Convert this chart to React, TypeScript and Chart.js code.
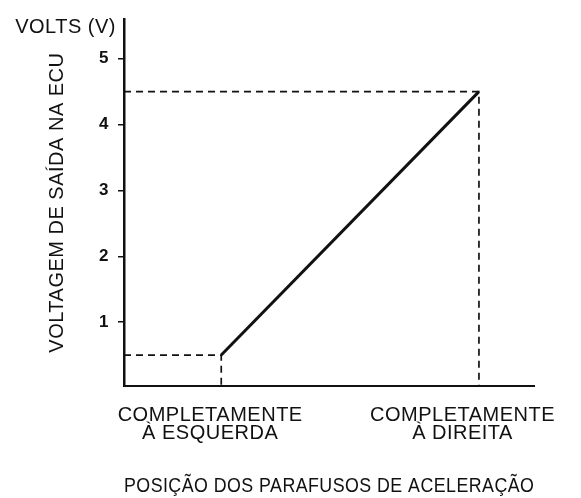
import React, { useEffect, useRef } from "react";
import { Chart, registerables } from "chart.js";

Chart.register(...registerables);

// ---- data ----
const throttleTickLabels = [
  ["COMPLETAMENTE", "À ESQUERDA"],
  ["COMPLETAMENTE", "À DIREITA"],
];
const throttleTickPositions = [2.1, 8.25];
const throttleStops = [2.37, 8.65];
const outputVolts = [0.5, 4.5];
const voltTicks = [1, 2, 3, 4, 5];
const xRange = [0, 10];
const yRange = [0.03, 5.6];
const yUnitLabel = "VOLTS (V)";
const yTitle = "VOLTAGEM DE SAÍDA NA ECU";
const xTitle = "POSIÇÃO DOS PARAFUSOS DE ACELERAÇÃO";

const INK = "#111111";
const FONT = '"Liberation Sans", Arial, Helvetica, sans-serif';
const SPACING = "0.5px";

const textPlugin = {
  id: "textTweaks",
  beforeLayout(chart: any) {
    chart.ctx.letterSpacing = SPACING;
  },
  beforeDraw(chart: any) {
    chart.ctx.letterSpacing = SPACING;
  },
  afterDraw(chart: any) {
    const { ctx, chartArea } = chart;
    ctx.save();
    ctx.letterSpacing = SPACING;
    ctx.font = `20px ${FONT}`;
    ctx.fillStyle = INK;
    ctx.textAlign = "right";
    ctx.textBaseline = "middle";
    ctx.fillText(yUnitLabel, chartArea.left - 8, chartArea.top + 8);
    ctx.restore();
  },
};

export default function App() {
  const ref = useRef<HTMLCanvasElement | null>(null);

  useEffect(() => {
    if (!ref.current) return;
    const guide = {
      borderColor: INK,
      borderWidth: 1.7,
      borderDash: [7, 5],
      pointRadius: 0,
      fill: false,
      tension: 0,
    };
    const chart = new Chart(ref.current, {
      type: "line",
      data: {
        datasets: [
          {
            label: "guia esquerda",
            data: [
              { x: xRange[0], y: outputVolts[0] },
              { x: throttleStops[0], y: outputVolts[0] },
              { x: throttleStops[0], y: yRange[0] },
            ],
            ...guide,
          },
          {
            label: "guia direita",
            data: [
              { x: xRange[0], y: outputVolts[1] },
              { x: throttleStops[1], y: outputVolts[1] },
              { x: throttleStops[1], y: yRange[0] },
            ],
            ...guide,
          },
          {
            label: "saída",
            data: throttleStops.map((x, i) => ({ x, y: outputVolts[i] })),
            borderColor: INK,
            borderWidth: 3,
            pointRadius: 0,
            fill: false,
            tension: 0,
          },
        ],
      },
      options: {
        animation: false,
        responsive: false,
        devicePixelRatio: 1,
        layout: { padding: { top: 15, right: 34, left: 0, bottom: 0 } },
        plugins: {
          legend: { display: false },
          tooltip: { enabled: false },
          title: { display: false },
        },
        scales: {
          x: {
            type: "linear",
            position: "bottom",
            min: xRange[0],
            max: xRange[1],
            afterFit: (s: any) => {
              s.height = 112;
            },
            afterBuildTicks: (s: any) => {
              s.ticks = throttleTickPositions.map((v) => ({ value: v }));
            },
            ticks: {
              callback: (_v: any, i: number) => throttleTickLabels[i],
              font: { family: FONT, size: 20, lineHeight: 0.93 },
              color: INK,
              padding: 20,
              maxRotation: 0,
              autoSkip: false,
            },
            grid: { display: false, drawTicks: false },
            border: { display: true, color: INK, width: 2 },
            title: {
              display: true,
              text: xTitle,
              font: { family: FONT, size: 20, lineHeight: 1.2 },
              color: INK,
              padding: { top: 0, bottom: 0 },
            },
          },
          y: {
            type: "linear",
            min: yRange[0],
            max: yRange[1],
            afterFit: (s: any) => {
              s.width = 124;
            },
            afterBuildTicks: (s: any) => {
              s.ticks = voltTicks.map((v) => ({ value: v }));
            },
            ticks: {
              font: { family: FONT, size: 17, weight: "bold" },
              color: INK,
              padding: 9,
            },
            grid: {
              drawOnChartArea: false,
              drawTicks: true,
              tickLength: 6,
              color: INK,
              lineWidth: 1.5,
            },
            border: { display: true, color: INK, width: 2.5 },
            title: {
              display: true,
              text: yTitle,
              font: { family: FONT, size: 20, lineHeight: 1.2 },
              color: INK,
              padding: { top: 45, bottom: 0 },
            },
          },
        },
      },
      plugins: [textPlugin],
    } as any);
    return () => chart.destroy();
  }, []);

  return (
    <div style={{ position: "fixed", left: 0, top: 0, width: 581, height: 498, background: "#fff" }}>
      <canvas ref={ref} width={581} height={498} style={{ display: "block", width: 581, height: 498 }} />
    </div>
  );
}
